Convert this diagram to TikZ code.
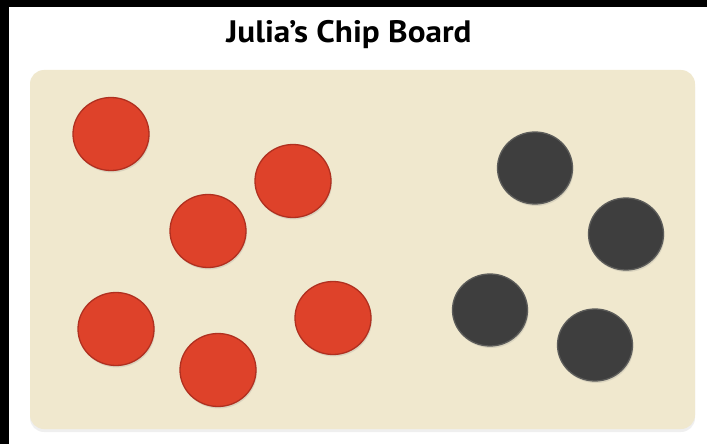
\documentclass[tikz,border=0pt]{standalone}
\usepackage{fontspec}
\setmainfont{PT Sans}
\newfontfamily\titlefont[FakeStretch=1.07]{PT Sans}
\usetikzlibrary{shapes.geometric,shadows}
\definecolor{boardtan}{RGB}{240,232,206}
\definecolor{chipred}{RGB}{222,66,42}
\definecolor{chipredrim}{RGB}{176,48,32}
\definecolor{chipdark}{RGB}{62,62,62}
\definecolor{chipdarkrim}{RGB}{92,92,90}

\begin{document}
\begin{tikzpicture}[x=1pt,y=-1pt,
    chip/.style={ellipse,minimum width=76pt,minimum height=73pt,inner sep=0pt,line width=1.3pt,
      drop shadow={shadow xshift=1pt,shadow yshift=-2pt,opacity=0.2}},
    redchip/.style={chip,fill=chipred,draw=chipredrim},
    darkchip/.style={chip,fill=chipdark,draw=chipdarkrim}]
  \useasboundingbox (0,0) rectangle (707,444);
  \fill[white] (0,0) rectangle (707,444);
  \fill[black] (0,0) rectangle (9,444);
  \fill[black] (0,0) rectangle (707,7);
  % title
  \node[font=\titlefont\bfseries\fontsize{31}{34}\selectfont,anchor=base] (title) at (349,43) {Julia’s Chip Board};
  % board
  \fill[boardtan,rounded corners=14pt,drop shadow={shadow xshift=0pt,shadow yshift=-3pt,opacity=0.12}]
    (30,70) rectangle (695,429);
  % chips
  \foreach \n/\x/\y in {r1/111/134,r2/208/231,r3/293/181,r4/116/329,r5/218/370,r6/333/318}
    \node[redchip] (\n) at (\x,\y) {};
  \foreach \n/\x/\y in {d1/535/168,d2/626/234,d3/490/310,d4/595/345}
    \node[darkchip,minimum width=75pt,minimum height=72pt] (\n) at (\x,\y) {};
\end{tikzpicture}
\end{document}
